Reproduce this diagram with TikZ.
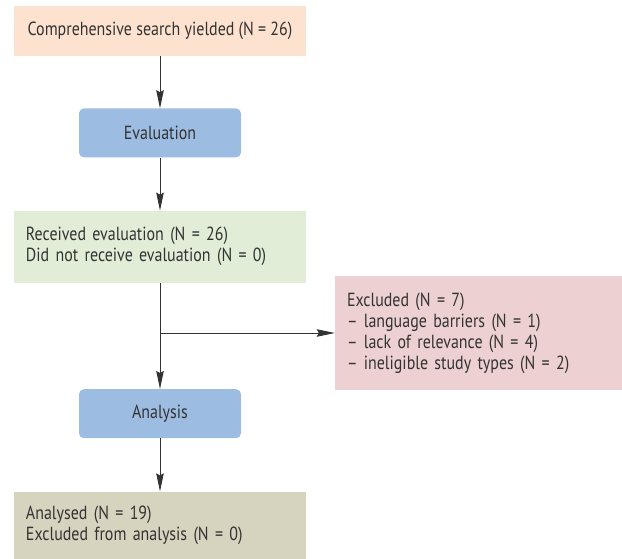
\documentclass[tikz,border=0pt]{standalone}
\usepackage{fontspec}
\setmainfont{PT Sans}[FakeStretch=0.84]
\usepackage{tikz}
\usetikzlibrary{positioning}
\usetikzlibrary{arrows.meta}

\definecolor{peach}{HTML}{FDE2CF}
\definecolor{stepblue}{HTML}{9DBCE2}
\definecolor{palegreen}{HTML}{E2EDD8}
\definecolor{palered}{HTML}{EDD0D1}
\definecolor{khaki}{HTML}{D6D3BE}
\definecolor{ink}{HTML}{333333}

\begin{document}
\begin{tikzpicture}[x=1pt, y=1pt, font=\fontsize{19}{21}\selectfont, text=ink,
    wide/.style = {minimum width=292pt, inner sep=0pt},
    infobox/.style = {wide, align=left, text width=268pt, inner xsep=12pt},
    stepbox/.style = {fill=stepblue, rounded corners=5pt, minimum width=162pt, minimum height=49pt},
    arr/.style = {draw=ink, line width=0.9pt, -{Stealth[length=18pt, width=7.5pt, inset=2pt]}}]
          \useasboundingbox (0,0) rectangle (622,-558);
          \node[wide, fill=peach, minimum height=50pt](search) at (160,-31){Comprehensive search yielded (N = 26)};
          \node[stepbox](eval)[below=52pt of search]{Evaluation};
          \node[infobox, fill=palegreen, minimum height=72pt](received)[below=53pt of eval]{Received evaluation (N = 26)\\Did not receive evaluation (N = 0)};
          \node[stepbox](analysis)[below=106pt of received]{Analysis};
          \node[infobox, fill=khaki, minimum height=68pt](analysed)[below=53pt of analysis]{Analysed (N = 19)\\Excluded from analysis (N = 0)};
          \node[fill=palered, minimum width=287pt, minimum height=114pt, text width=263pt, inner xsep=12pt, align=left](excluded) at (478.5,-333){Excluded (N = 7)\\-- language barriers (N = 1)\\-- lack of relevance (N = 4)\\-- ineligible study types (N = 2)};
          \coordinate (branch) at (received.south |- excluded.west);
          \draw[arr] (search) -- (eval);
          \draw[arr] (eval) -- (received);
          \draw[arr] (received) -- (analysis);
          \draw[arr] (branch) -- (excluded);
          \draw[arr] (analysis) -- (analysed);
        \end{tikzpicture}
\end{document}
